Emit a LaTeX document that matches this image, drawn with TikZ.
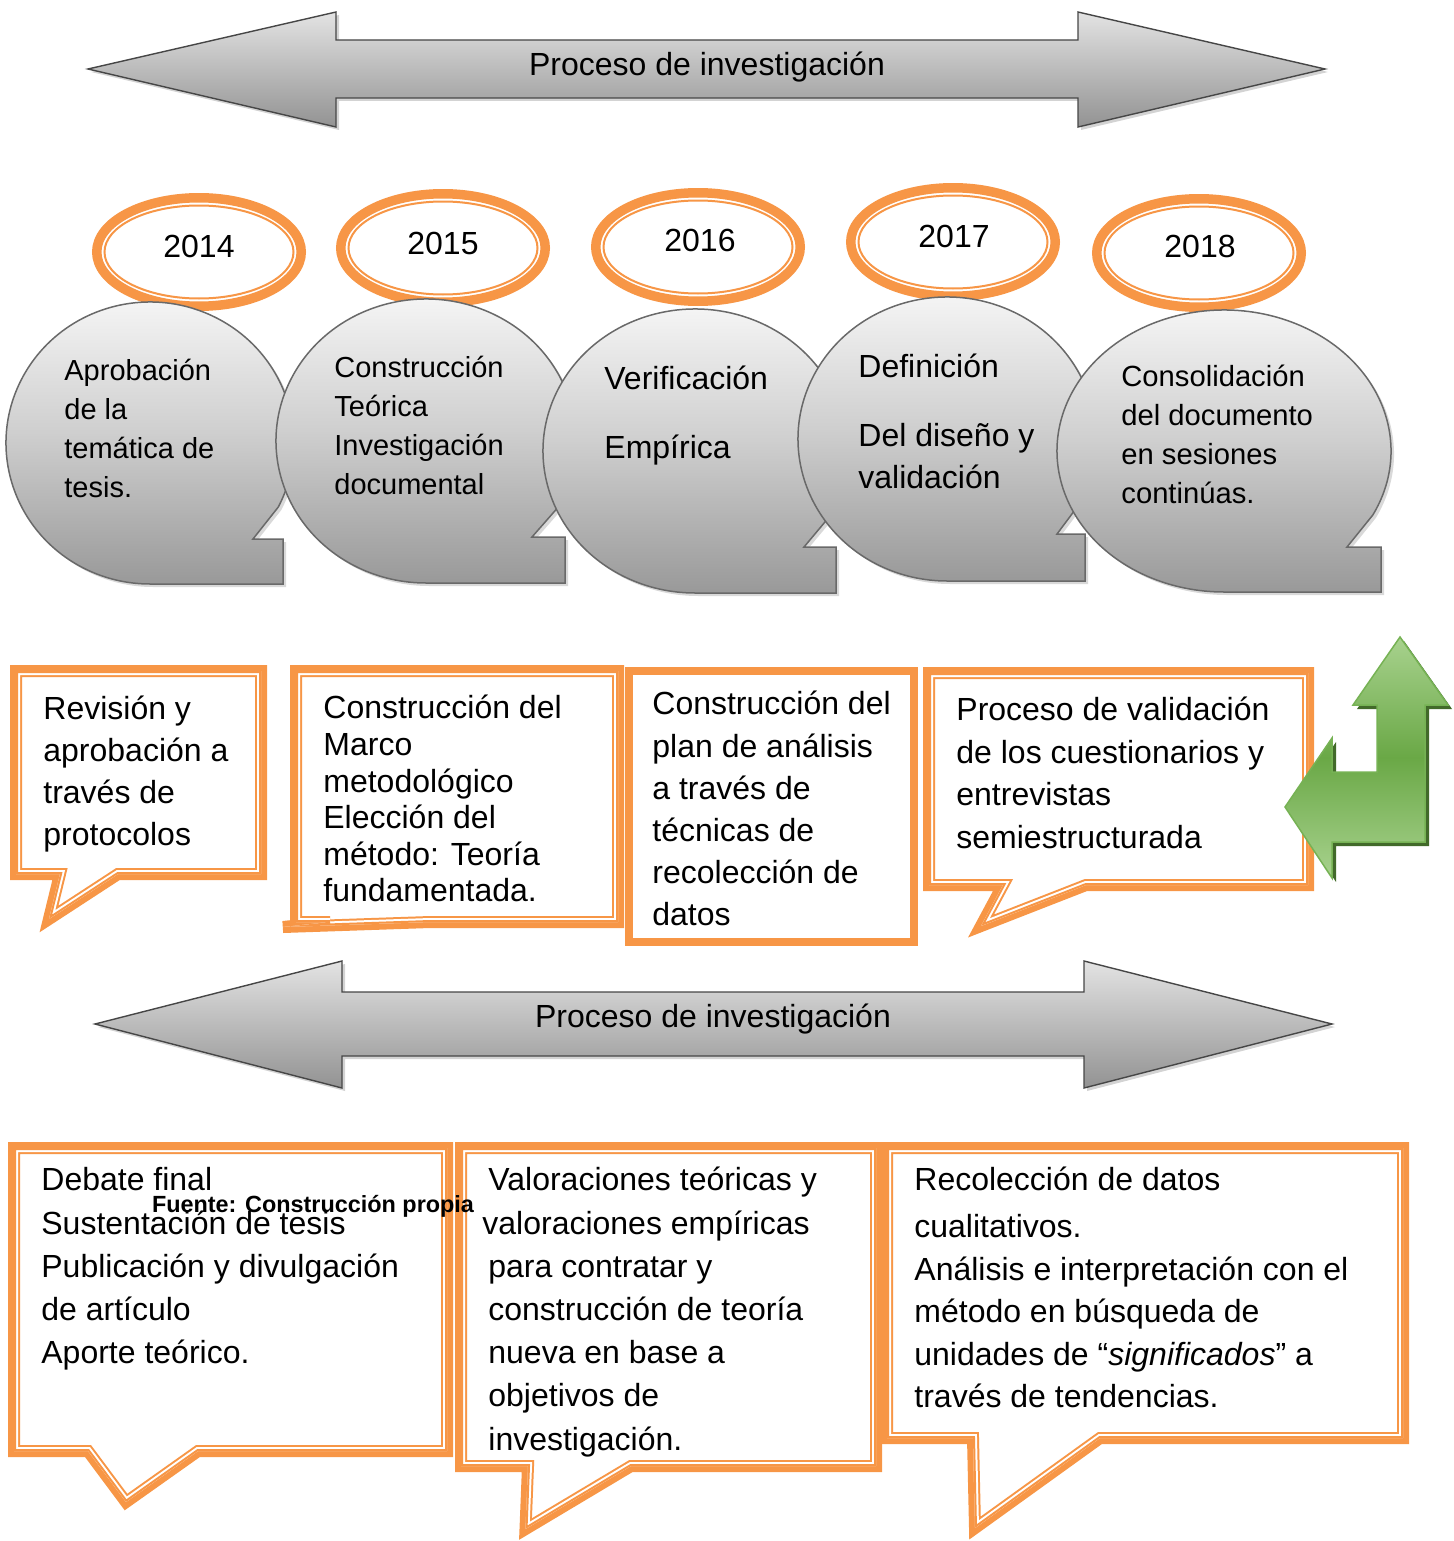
\documentclass[tikz,border=0pt]{standalone}
\usepackage{fontspec}
\setmainfont{Liberation Sans}
\definecolor{ocol}{RGB}{247,150,70}
\definecolor{gLight}{RGB}{168,210,142}
\definecolor{gDark}{RGB}{106,168,70}
\definecolor{gLine}{RGB}{118,178,84}
\definecolor{gShadow}{RGB}{66,106,42}
\definecolor{bubLine}{RGB}{105,105,105}
\tikzset{
  txt/.style={anchor=north west, align=left, inner sep=0pt, text=black},
  yeartxt/.style={inner sep=0pt, text=black, font=\fontsize{16}{19}\selectfont},
  bubst/.style={draw=bubLine, line width=0.75pt, top color=gray!4, bottom color=gray!80, middle color=gray!38},
  bigarrow/.style={draw=gray!55!black, line width=0.7pt, top color=gray!22, bottom color=gray!85},
  arrshadow/.style={fill=gray, opacity=0.35},
  greenarrow/.style={draw=gLine, line width=0.75pt, top color=gLight, bottom color=gLight, middle color=gDark},
}
\newcommand{\ocall}[1]{%
  \fill[white] #1;
  \draw[ocol, line width=6pt] #1;
  \begin{scope}
    \clip #1;
    \draw[white, line width=4pt] #1;
    \draw[ocol, line width=2pt] #1;
  \end{scope}}
\newcommand{\yring}[2]{%
  \fill[white] (#1,#2) ellipse [x radius=107, y radius=59];
  \draw[ocol, line width=4.75pt] (#1,#2) ellipse [x radius=102.25, y radius=54.25];
  \draw[ocol, line width=1pt] (#1,#2) ellipse [x radius=94.5, y radius=46.5];}
\newcommand{\bubpath}[8]{({#1+#3*cos(#5)},{#2+#4*sin(#5)}) arc[start angle=#5, end angle=-270, x radius=#3, y radius=#4] -- ({#8},{#2+#4}) -- ({#8},{#7}) -- ({#6},{#7}) -- cycle}
\newcommand{\bub}[8]{%
  \fill[gray, opacity=0.3, shift={(3,3)}] \bubpath{#1}{#2}{#3}{#4}{#5}{#6}{#7}{#8};
  \path[bubst] \bubpath{#1}{#2}{#3}{#4}{#5}{#6}{#7}{#8};}
\begin{document}
\begin{tikzpicture}[x=1pt,y=1pt,scale=0.5,yscale=-1]
\useasboundingbox (0,0) rectangle (1453,1541);

% top double arrow
\fill[arrshadow, shift={(3,3)}] (88,69) -- (336,12) -- (336,40) -- (1078,40) -- (1078,12) -- (1325,69) -- (1078,127) -- (1078,98) -- (336,98) -- (336,127) -- cycle;
\path[bigarrow] (88,69) -- (336,12) -- (336,40) -- (1078,40) -- (1078,12) -- (1325,69) -- (1078,127) -- (1078,98) -- (336,98) -- (336,127) -- cycle;

% year rings
\yring{199}{252}
\yring{443}{248}
\yring{698}{247}
\yring{953}{242}
\yring{1199}{253}

% speech bubbles
\bub{150}{443}{144}{141}{27}{253}{539}{283}
\bub{426}{441}{150}{142}{27}{532}{537}{565}
\bub{695}{451}{152}{142}{27}{804}{547}{836}
\bub{947}{439}{149}{142}{27}{1057}{534}{1085}
\bub{1224}{451}{167}{141}{27}{1347}{547}{1381}

% middle callouts
\ocall{(16,671) -- (261,671) -- (261,874) -- (118,874) -- (49,919) -- (60,874) -- (16,874) -- cycle}
\ocall{(296,671) -- (618,671) -- (618,922) -- (430,922) -- (283,927) -- (330,922) -- (296,922) -- cycle}
\filldraw[fill=white, draw=ocol, line width=4pt] (629,671) rectangle (914,942);
\ocall{(929,673) -- (1308,673) -- (1308,885) -- (1086,885) -- (981,926) -- (1003,885) -- (929,885) -- cycle}

% green bent arrow
\fill[gShadow, shift={(4,4)}] (1400,637) -- (1448,705) -- (1425,705) -- (1425,842) -- (1332,842) -- (1332,878) -- (1285,807) -- (1332,738) -- (1332,772) -- (1377,772) -- (1377,705) -- (1353,705) -- cycle;
\path[greenarrow] (1400,637) -- (1448,705) -- (1425,705) -- (1425,842) -- (1332,842) -- (1332,878) -- (1285,807) -- (1332,738) -- (1332,772) -- (1377,772) -- (1377,705) -- (1353,705) -- cycle;

% bottom double arrow
\fill[arrshadow, shift={(3,3)}] (95,1024) -- (342,961) -- (342,992) -- (1084,992) -- (1084,961) -- (1332,1024) -- (1084,1088) -- (1084,1056) -- (342,1056) -- (342,1088) -- cycle;
\path[bigarrow] (95,1024) -- (342,961) -- (342,992) -- (1084,992) -- (1084,961) -- (1332,1024) -- (1084,1088) -- (1084,1056) -- (342,1056) -- (342,1088) -- cycle;

% bottom callouts
\ocall{(14,1148) -- (447,1148) -- (447,1451) -- (198,1451) -- (126,1502) -- (88,1451) -- (14,1451) -- cycle}
\ocall{(461,1148) -- (876,1148) -- (876,1466) -- (631,1466) -- (525.5,1529) -- (528,1466) -- (461,1466) -- cycle}
\ocall{(887,1148) -- (1403,1148) -- (1403,1438) -- (1100,1438) -- (975,1528) -- (973,1438) -- (887,1438) -- cycle}

% texts
\node[inner sep=0pt, font=\fontsize{16}{19}\selectfont] (arrowtop) at (707,67) {Proceso de investigación};
\node[inner sep=0pt, font=\fontsize{16}{19}\selectfont] (arrowbot) at (713,1019) {Proceso de investigación};

\node[yeartxt] (y14) at (199,246) {2014};
\node[yeartxt] (y15) at (443,243) {2015};
\node[yeartxt] (y16) at (700,240) {2016};
\node[yeartxt] (y17) at (954,236) {2017};
\node[yeartxt] (y18) at (1200,246) {2018};

\node[txt, font=\fontsize{14.5}{19.5}\selectfont] (b1) at (64,353.1) {\strut Aprobación\\de la\\temática de\\tesis.};
\node[txt, font=\fontsize{14.5}{19.5}\selectfont] (b2) at (334,350.1) {\strut Construcción\\Teórica\\Investigación\\documental};
\node[txt, font=\fontsize{16}{34.5}\selectfont] (b3) at (604,340.7) {\strut Verificación\\Empírica};
\node[txt, font=\fontsize{16}{21}\selectfont] (b4) at (858,347.6) {\strut Definición\\[13.5pt]Del diseño y\\validación};
\node[txt, font=\fontsize{14.6}{19.5}\selectfont] (b5) at (1121,359.2) {\strut Consolidación\\del documento\\en sesiones\\continúas.};

\node[txt, font=\fontsize{16}{21}\selectfont] (c1) at (43,690) {\strut Revisión y\\aprobación a\\través de\\protocolos};
\node[txt, font=\fontsize{16}{18.3}\selectfont] (c2) at (323,692.9) {\strut Construcción del\\Marco\\metodológico\\Elección del\\método: Teoría\\fundamentada.};
\node[txt, font=\fontsize{16}{21.1}\selectfont] (c3) at (652,685) {\strut Construcción del\\plan de análisis\\a través de\\técnicas de\\recolección de\\datos};
\node[txt, font=\fontsize{16}{21.2}\selectfont] (c4) at (956,690.8) {\strut Proceso de validación\\de los cuestionarios y\\entrevistas\\semiestructurada};

\node[txt, font=\fontsize{16}{21.6}\selectfont] (ba) at (41,1160.3) {\strut Debate final\\Sustentación de tesis\\Publicación y divulgación\\de artículo\\Aporte teórico.};
\node[txt, font=\fontsize{16}{21.6}\selectfont] (bb) at (488,1160.3) {\strut Valoraciones teóricas y\\\hspace*{-3pt}valoraciones empíricas\\para contratar y\\construcción de teoría\\nueva en base a\\objetivos de\\investigación.};
\node[txt, font=\fontsize{16}{21.2}\selectfont] (bc) at (914,1160.8) {\strut Recolección de datos\\[2.3pt]cualitativos.\\Análisis e interpretación con el\\método en búsqueda de\\unidades de “\textit{significados}” a\\través de tendencias.};

\node[inner sep=0pt, font=\bfseries\fontsize{11.7}{14}\selectfont] (fuente) at (313,1206) {Fuente: Construcción propia};
\end{tikzpicture}
\end{document}
